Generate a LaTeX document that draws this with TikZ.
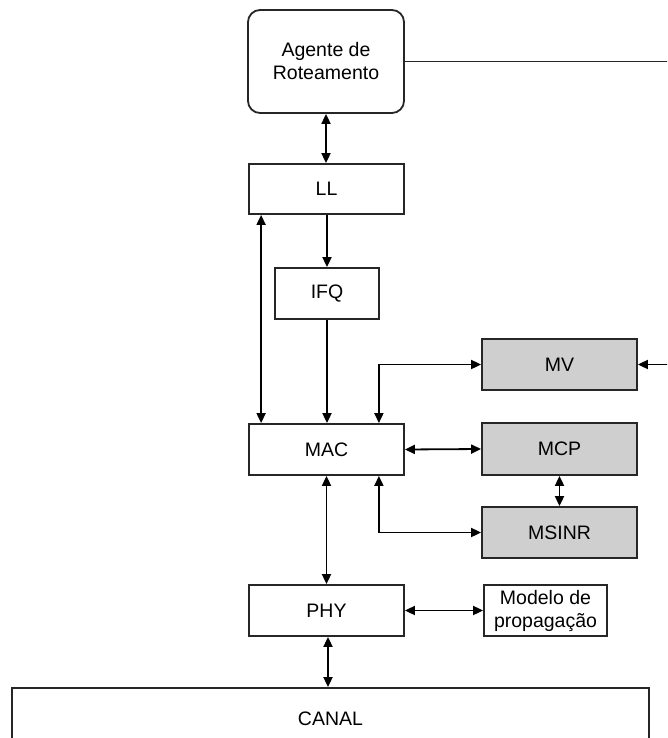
\documentclass[tikz,border=0pt]{standalone}
\usepackage{fontspec}
\setmainfont{Liberation Sans}
\usetikzlibrary{arrows.meta}
\begin{document}
\begin{tikzpicture}[x=1pt,y=-1pt,
  every node/.style={font=\fontsize{19.5}{23}\selectfont, align=center, inner sep=0pt},
  blk/.style={draw=black!85, line width=1.8pt, fill=white},
  gblk/.style={blk, fill=black!19},
  conn/.style={line width=1.8pt, -{Triangle[length=10pt,width=9pt]}},
  bconn/.style={line width=1.8pt, {Triangle[length=10pt,width=9pt]}-{Triangle[length=10pt,width=9pt]}},
  plain/.style={line width=1.8pt, draw=black!85}]
\useasboundingbox (0,0) rectangle (667,738);
\clip (0,0) rectangle (667,738);

% layer stack
\node[blk, rounded corners=12pt, minimum width=156pt, minimum height=103pt] (agent) at (326,61.5) {Agente de\\Roteamento};
\node[blk, minimum width=155pt, minimum height=50pt] (ll) at (326.5,189) {LL};
\node[blk, minimum width=104pt, minimum height=51pt] (ifq) at (327,293.5) {IFQ};
\node[blk, minimum width=155pt, minimum height=51pt] (mac) at (326.5,449.5) {MAC};
\node[blk, minimum width=155pt, minimum height=51pt] (phy) at (326.5,610.5) {PHY};
\node[blk, minimum width=637pt, minimum height=62pt] (canal) at (330.5,719) {CANAL};

% side modules
\node[gblk, minimum width=155pt, minimum height=51pt] (mv) at (559.5,364.5) {MV};
\node[gblk, minimum width=155pt, minimum height=52pt] (mcp) at (559.5,449) {MCP};
\node[gblk, minimum width=155pt, minimum height=51pt] (msinr) at (559.5,532.5) {MSINR};
\node[blk, minimum width=123pt, minimum height=51pt] (prop) at (545.5,610.5) {Modelo de\\propagação};

% connectors (the feedback line to MV runs just past the right edge)
\coordinate (rtop) at (672,61.5);
\coordinate (rmv) at (672,364.5);
\draw[plain] (agent.east) -- (rtop) -- (rmv);
\draw[conn] (rmv) -- (mv.east);

\draw[bconn] (agent.south) -- (ll.north -| agent.south);
\draw[conn] (ll.south -| ifq.north) -- (ifq.north);
\draw[bconn] ([xshift=13pt]ll.south west) -- ([xshift=13pt]mac.north west);
\draw[conn] (ifq.south) -- (ifq.south |- mac.north);
\draw[bconn] ([xshift=-26pt]mac.north east) |- (mv.west);
\draw[bconn] (mac.east) -- (mcp.west);
\draw[bconn] (mcp.south) -- (msinr.north);
\draw[bconn] ([xshift=-26pt]mac.south east) |- (msinr.west);
\draw[bconn] (mac.south) -- (phy.north);
\draw[bconn] (phy.east) -- (prop.west);
\draw[bconn] ([xshift=1.5pt]phy.south) -- ([xshift=1.5pt]phy.south |- canal.north);
\end{tikzpicture}
\end{document}
